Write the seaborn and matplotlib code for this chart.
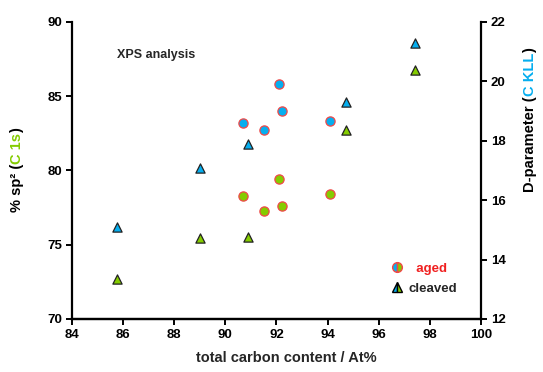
import matplotlib
matplotlib.use("Agg")
import matplotlib.pyplot as plt
import seaborn as sns
import pandas as pd
from matplotlib.lines import Line2D

sns.set_style("ticks")
plt.rcParams['font.family'] = ['Liberation Sans', 'DejaVu Sans']
plt.rcParams['font.weight'] = 'bold'

# data
aged_carbon = [90.7, 92.1, 91.5, 92.2, 94.1]
aged_sp2 = [78.3, 79.4, 77.3, 77.6, 78.4]
aged_D = [18.6, 19.9, 18.35, 19.0, 18.65]

cleaved_carbon = [85.75, 89.0, 90.9, 94.7, 97.4]
cleaved_sp2 = [72.7, 75.45, 75.5, 82.75, 86.75]
cleaved_D = [15.1, 17.1, 17.9, 19.3, 21.3]

x_ticks = [84, 86, 88, 90, 92, 94, 96, 98, 100]
left_ticks = [70, 75, 80, 85, 90]
right_ticks = [12, 14, 16, 18, 20, 22]

GREEN = '#84CC00'
BLUE = '#05AEEF'
RED = '#F04848'

aged = pd.DataFrame({'carbon': aged_carbon, 'sp2': aged_sp2, 'D': aged_D})
cleaved = pd.DataFrame({'carbon': cleaved_carbon, 'sp2': cleaved_sp2, 'D': cleaved_D})

fig = plt.figure(figsize=(5.43, 3.72), dpi=100)
ax = fig.add_axes([0.1326, 0.1425, 0.7532, 0.7984])
ax2 = ax.twinx()

ms = 44
sns.scatterplot(data=aged, x='carbon', y='sp2', ax=ax, marker='o', s=ms,
                color=GREEN, edgecolor=RED, linewidth=0.9, zorder=3, legend=False)
sns.scatterplot(data=cleaved, x='carbon', y='sp2', ax=ax, marker='^', s=ms,
                color=GREEN, edgecolor='#222222', linewidth=0.9, zorder=3, legend=False)
sns.scatterplot(data=aged, x='carbon', y='D', ax=ax2, marker='o', s=ms,
                color=BLUE, edgecolor=RED, linewidth=0.9, zorder=3, legend=False)
sns.scatterplot(data=cleaved, x='carbon', y='D', ax=ax2, marker='^', s=ms,
                color=BLUE, edgecolor='#222222', linewidth=0.9, zorder=3, legend=False)

ax.set_xlim(84, 100)
ax.set_ylim(70, 90)
ax2.set_ylim(12, 22)
ax.set_xticks(x_ticks)
ax.set_yticks(left_ticks)
ax2.set_yticks(right_ticks)
ax.set_xticklabels([str(t) for t in x_ticks])
ax.set_yticklabels([str(t) for t in left_ticks])
ax2.set_yticklabels([str(t) for t in right_ticks])

for a in (ax, ax2):
    a.spines['top'].set_visible(False)
    for s in ('left', 'right', 'bottom'):
        a.spines[s].set_linewidth(1.6)
        a.spines[s].set_color('black')
    a.tick_params(axis='both', direction='out', length=4, width=1.4,
                  labelsize=9.5, colors='black', pad=3)
    a.set_xlabel('')
    a.set_ylabel('')
    for lab in a.get_xticklabels() + a.get_yticklabels():
        lab.set_fontweight('bold')

ax2.spines['left'].set_visible(False)
ax.spines['right'].set_visible(False)

ax.text(0.11, 0.89, 'XPS analysis', transform=ax.transAxes, fontsize=9,
        fontweight='bold', ha='left', va='center')

fig.text(286 / 543, 1 - 358 / 372, 'total carbon content / At%', ha='center',
         va='center', fontsize=10.5, fontweight='bold')

# multicolored rotated labels
fig.canvas.draw()
renderer = fig.canvas.get_renderer()


def vertical_label(parts, xpix, ycenter_pix):
    texts = []
    heights = []
    for s, c in parts:
        t = fig.text(0, 0, s, rotation=90, fontsize=10.5, fontweight='bold',
                     color=c, ha='center', va='bottom')
        bb = t.get_window_extent(renderer)
        heights.append(bb.height)
        texts.append(t)
    total = sum(heights)
    H = fig.bbox.height
    y = (H - ycenter_pix) - total / 2
    for t, h in zip(texts, heights):
        t.set_position((xpix / 543, y / H))
        y += h


vertical_label([('% sp² (', 'black'), ('C 1s', GREEN), (')', 'black')], 17, 170)
vertical_label([('D-parameter (', 'black'), ('C KLL', BLUE), (')', 'black')], 530, 120)

handles = [
    Line2D([], [], linestyle='none', marker='o', markersize=7, fillstyle='left',
           markerfacecolor=BLUE, markerfacecoloralt=GREEN, markeredgecolor=RED,
           markeredgewidth=1.0),
    Line2D([], [], linestyle='none', marker='^', markersize=7, fillstyle='left',
           markerfacecolor=BLUE, markerfacecoloralt=GREEN, markeredgecolor='black',
           markeredgewidth=1.0),
]
leg = ax.legend(handles, ['  aged', 'cleaved'], loc='center',
                bbox_to_anchor=(0.86, 0.135), frameon=False, fontsize=9.5,
                handletextpad=0.4, labelspacing=0.6, handlelength=1.0)
leg.get_texts()[0].set_color('#F02020')
for t in leg.get_texts():
    t.set_fontweight('bold')

fig.savefig('out.png', dpi=100)
